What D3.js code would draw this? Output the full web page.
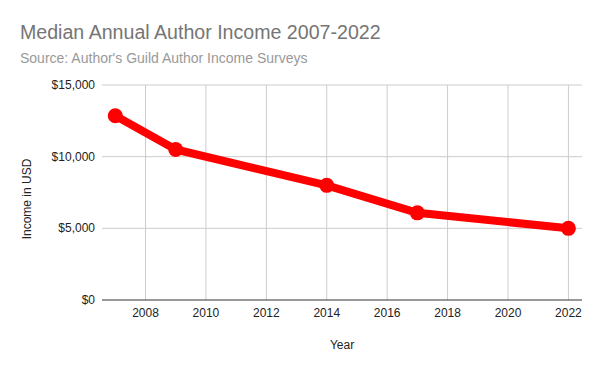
<!DOCTYPE html>
<html>
<head>
<meta charset="utf-8">
<script src="https://cdn.jsdelivr.net/npm/d3@7"></script>
<style>
  body { margin: 0; background: #fff; }
  svg text { font-family: Arial, "Liberation Sans", sans-serif; }
</style>
</head>
<body>
<script>
const years = [2007, 2009, 2014, 2017, 2022]
const income = [12850, 10500, 8000, 6080, 5000]
const xTicks = [2008, 2010, 2012, 2014, 2016, 2018, 2020, 2022]
const yTicks = [0, 5000, 10000, 15000]

const width = 600
const height = 371
const margin = {top: 85, right: 18, bottom: 71, left: 102}

const svg = d3.select("body").append("svg")
  .attr("width", width)
  .attr("height", height)

const x = d3.scaleLinear()
  .domain([2006.56, 2022.45])
  .range([margin.left, width - margin.right])

const y = d3.scaleLinear()
  .domain([0, 15000])
  .range([height - margin.bottom, margin.top])

// gridlines
svg.append("g")
  .selectAll("line")
  .data(xTicks)
  .enter()
  .append("line")
  .attr("x1", d => x(d)).attr("x2", d => x(d))
  .attr("y1", y(15000)).attr("y2", y(0))
  .attr("stroke", "#cccccc")

svg.append("g")
  .selectAll("line")
  .data(yTicks.filter(d => d > 0))
  .enter()
  .append("line")
  .attr("x1", margin.left).attr("x2", width - margin.right)
  .attr("y1", d => y(d)).attr("y2", d => y(d))
  .attr("stroke", "#cccccc")

svg.append("line")
  .attr("x1", margin.left).attr("x2", width - margin.right)
  .attr("y1", y(0)).attr("y2", y(0))
  .attr("stroke", "#333333")

// tick labels
svg.append("g")
  .selectAll("text")
  .data(yTicks)
  .enter()
  .append("text")
  .attr("x", margin.left - 7)
  .attr("y", d => y(d) + 4)
  .attr("text-anchor", "end")
  .attr("font-size", 12)
  .attr("fill", "#222")
  .text(d => "$" + d3.format(",")(d))

svg.append("g")
  .selectAll("text")
  .data(xTicks)
  .enter()
  .append("text")
  .attr("x", d => x(d))
  .attr("y", y(0) + 17)
  .attr("text-anchor", "middle")
  .attr("font-size", 12)
  .attr("fill", "#222")
  .text(d => d)

// line + points
const pts = years.map((d, i) => [d, income[i]])

svg.append("path")
  .datum(pts)
  .attr("fill", "none")
  .attr("stroke", "#ff0000")
  .attr("stroke-width", 8)
  .attr("stroke-linejoin", "round")
  .attr("d", d3.line().x(d => x(d[0])).y(d => y(d[1])))

svg.append("g")
  .selectAll("circle")
  .data(pts)
  .enter()
  .append("circle")
  .attr("cx", d => x(d[0]))
  .attr("cy", d => y(d[1]))
  .attr("r", 7.5)
  .attr("fill", "#ff0000")

// titles
svg.append("text")
  .attr("x", 20).attr("y", 39)
  .attr("font-size", 19.6)
  .attr("fill", "#757575")
  .text("Median Annual Author Income 2007-2022")

svg.append("text")
  .attr("x", 20).attr("y", 63)
  .attr("font-size", 14)
  .attr("fill", "#999999")
  .text("Source: Author's Guild Author Income Surveys")

svg.append("text")
  .attr("x", (margin.left + width - margin.right) / 2)
  .attr("y", 349)
  .attr("text-anchor", "middle")
  .attr("font-size", 12)
  .attr("fill", "#222")
  .text("Year")

svg.append("text")
  .attr("transform", "translate(30.5,199) rotate(-90)")
  .attr("text-anchor", "middle")
  .attr("font-size", 12)
  .attr("fill", "#222")
  .text("Income in USD")
</script>
</body>
</html>
